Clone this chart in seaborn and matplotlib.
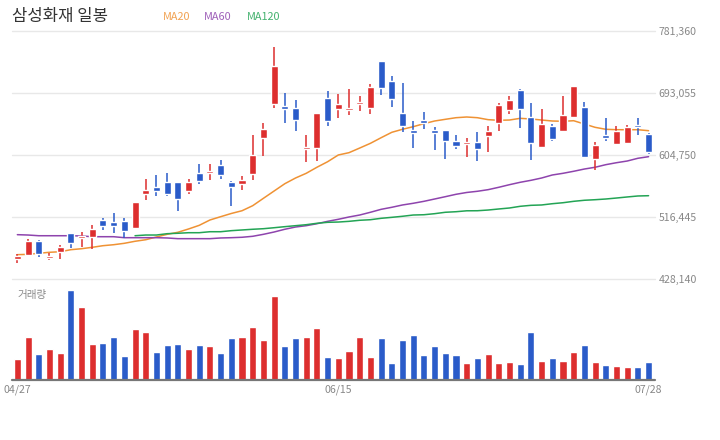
import numpy as np
import pandas as pd
import seaborn as sns
import matplotlib.pyplot as plt

title = "삼성화재 일봉"
tick_pos = [0, 30, 59]
tick_labels = ["04/27", "06/15", "07/28"]
price_ticks = [428140, 516445, 604750, 693055, 781360]

open_ = [457500, 462700, 482700, 458500, 467400, 494100, 487400, 488800, 512600, 509700,
         511200, 501600, 550100, 559600, 566700, 566700, 554300, 579500, 580000, 590900,
         566700, 563900, 578500, 629800, 678200, 675000, 672100, 613700, 615600, 686400,
         671100, 669700, 677800, 672500, 739100, 710600, 665000, 640800, 655000, 640800,
         640800, 625100, 621300, 623700, 632700, 651200, 669700, 697800, 659300, 617000,
         646500, 639800, 659700, 673500, 599900, 633700, 621300, 622700, 647900, 635100]
high = [464200, 485100, 484100, 466000, 477000, 494100, 495500, 505500, 515400, 522600,
        515400, 538200, 571000, 576700, 579500, 566700, 571000, 592400, 592400, 598100,
        568100, 575300, 633700, 650800, 759000, 693500, 683500, 633700, 665000, 696300,
        692100, 699200, 689200, 706300, 739100, 717700, 707700, 653600, 666400, 645100,
        640800, 633700, 629400, 637900, 646500, 679200, 689200, 699200, 679200, 670700,
        649300, 689200, 703500, 680700, 623700, 657900, 646500, 647900, 657900, 636500]
low = [451800, 461300, 460300, 455600, 457500, 472700, 474600, 471700, 498400, 494500,
       487000, 501600, 541100, 547200, 547200, 525800, 550100, 564300, 570000, 571000,
       533000, 555800, 570000, 604200, 672500, 651200, 639800, 595600, 597100, 646900,
       658300, 662600, 668300, 664000, 691100, 674000, 638400, 615600, 642600, 612700,
       599900, 614200, 602800, 597100, 609900, 639800, 664000, 644100, 598500, 615600,
       625500, 639800, 659700, 601300, 584200, 625500, 619800, 621300, 634100, 607000]
close = [461300, 482700, 463700, 461300, 474100, 479800, 489400, 499800, 504100, 504100,
         497400, 538200, 555300, 554300, 550100, 542500, 566700, 568600, 582400, 577100,
         560000, 569600, 605200, 642200, 731900, 671100, 655500, 616600, 665000, 654000,
         677800, 672500, 680700, 702000, 701000, 685400, 646900, 636900, 650800, 636900,
         625500, 618400, 623700, 614200, 639400, 676400, 683500, 671100, 622700, 649300,
         628400, 662100, 703500, 602800, 619400, 629800, 639400, 645100, 645500, 609900]
volume = [21, 43, 26, 31, 27, 90, 73, 36, 37, 43, 24, 51, 48, 28, 35, 36, 31, 35, 34, 27,
          42, 43, 53, 40, 84, 34, 42, 43, 52, 23, 22, 29, 43, 23, 42, 17, 40, 45, 25, 34,
          27, 25, 17, 22, 26, 17, 18, 16, 48, 19, 22, 19, 28, 35, 18, 15, 14, 13, 13, 18]

ma20 = [463200, 463700, 465200, 466600, 467400, 470300, 471700, 473700, 476000, 477400,
        479400, 482300, 484500, 488400, 492200, 495100, 499800, 505000, 512600, 517300,
        521900, 525800, 533000, 543500, 553900, 564300, 572400, 579100, 587700, 595600,
        605200, 608500, 615100, 621800, 629800, 637500, 641800, 645500, 649800, 653600,
        656000, 658300, 659300, 658300, 655500, 654600, 655000, 657400, 656500, 655000,
        653600, 653200, 654000, 649300, 644600, 641800, 641200, 641200, 641200, 639800]
ma60 = [491700, 491200, 490200, 490200, 490200, 490200, 489800, 488800, 488800, 488800,
        487400, 487400, 487400, 487400, 487000, 486000, 486000, 486000, 486000, 487000,
        487400, 488000, 489400, 492200, 495500, 499400, 502600, 504500, 507300, 510700,
        513600, 516900, 519700, 523600, 527800, 530700, 534000, 536400, 539200, 542500,
        545800, 549200, 551800, 553500, 555800, 559200, 562900, 566300, 569100, 572400,
        576700, 579100, 582000, 585200, 587700, 591400, 594200, 596600, 600500, 602800]
ma120_start = 11
ma120 = [490200, 491200, 491200, 493100, 493700, 494500, 494500, 495900, 495900,
         497400, 498400, 499400, 500200, 501600, 503100, 504500, 505900, 507900, 509300,
         509700, 510700, 512200, 513000, 515000, 516400, 517900, 519700, 520100, 521600,
         523600, 524400, 525700, 525800, 526800, 528300, 529700, 532100, 533500, 534000,
         535800, 537200, 539200, 540700, 541500, 542500, 543900, 545400, 546800, 547200]

RED = "#dd2e2e"
BLUE = "#2a5bc9"
ma_colors = {"MA20": "#ef9234", "MA60": "#8e44ad", "MA120": "#23a455"}

sns.set_theme(style="white")
plt.rcParams['font.family'] = ['Noto Sans CJK KR', 'DejaVu Sans']

n = len(close)
idx = np.arange(n)
o = np.array(open_)
c = np.array(close)
up = c >= o
df = pd.DataFrame({"i": idx, "vol": volume,
                   "dir": np.where(up, "up", "down")})

ma_df = pd.concat([
    pd.DataFrame({"i": idx, "v": ma20, "ma": "MA20"}),
    pd.DataFrame({"i": idx, "v": ma60, "ma": "MA60"}),
    pd.DataFrame({"i": np.arange(ma120_start, n), "v": ma120, "ma": "MA120"}),
])

fig = plt.figure(figsize=(7.2, 4.4), dpi=100)
W, H = 720, 440
ax_p = fig.add_axes([12 / W, 1 - 279.3 / H, 643 / W, 248 / H])
ax_v = fig.add_axes([12 / W, 1 - 380 / H, 643 / W, 95 / H])

# price panel
for t in price_ticks:
    ax_p.axhline(t, color="#e8e8e8", lw=1, zorder=0, clip_on=False)
sns.lineplot(data=ma_df, x="i", y="v", hue="ma", palette=ma_colors,
             lw=1.1, legend=False, ax=ax_p, zorder=1)
cols = np.where(up, RED, BLUE)
ax_p.vlines(idx, low, high, colors=cols, lw=1.1, zorder=2)
body = np.maximum(np.abs(c - o), 2200)
ax_p.bar(idx, body, bottom=np.minimum(o, c), width=0.66, color=cols, zorder=3)

ax_p.set_xlim(-0.5, 59.6)
ax_p.set_ylim(price_ticks[0], price_ticks[-1])
ax_p.yaxis.tick_right()
ax_p.set_yticks(price_ticks)
ax_p.set_yticklabels([f"{t:,}" for t in price_ticks])
ax_p.tick_params(axis="y", length=0, pad=2.5, labelsize=7.6, labelcolor="#888888")
ax_p.set_xticks([])
ax_p.set_xlabel("")
ax_p.set_ylabel("")
for s in ax_p.spines.values():
    s.set_visible(False)
ax_p.patch.set_alpha(0)

# volume panel
sns.barplot(data=df, x="i", y="vol", hue="dir", palette={"up": RED, "down": BLUE},
            native_scale=True, dodge=False, width=0.66, legend=False,
            saturation=1, ax=ax_v)
ax_v.axhline(0, color="#777777", lw=1.6, clip_on=False)
ax_v.set_xlim(-0.5, 59.6)
ax_v.set_ylim(0, 95)
ax_v.set_yticks([])
ax_v.set_xticks(tick_pos)
ax_v.set_xticklabels(tick_labels)
ax_v.tick_params(axis="x", length=0, pad=3, labelsize=7.6, labelcolor="#888888")
ax_v.set_xlabel("")
ax_v.set_ylabel("")
for s in ax_v.spines.values():
    s.set_visible(False)
ax_v.text(0.0, 85, "거래량", fontsize=7.6, color="#888888", va="center", ha="left")

# header
fig.text(12 / W, 1 - 17 / H, title, fontsize=12, color="#333333", va="center", ha="left")
for name, xpx in [("MA20", 163), ("MA60", 204), ("MA120", 247)]:
    fig.text(xpx / W, 1 - 17 / H, name, fontsize=7.8, color=ma_colors[name],
             va="center", ha="left", alpha=0.85)

fig.savefig("out.png", dpi=100)
